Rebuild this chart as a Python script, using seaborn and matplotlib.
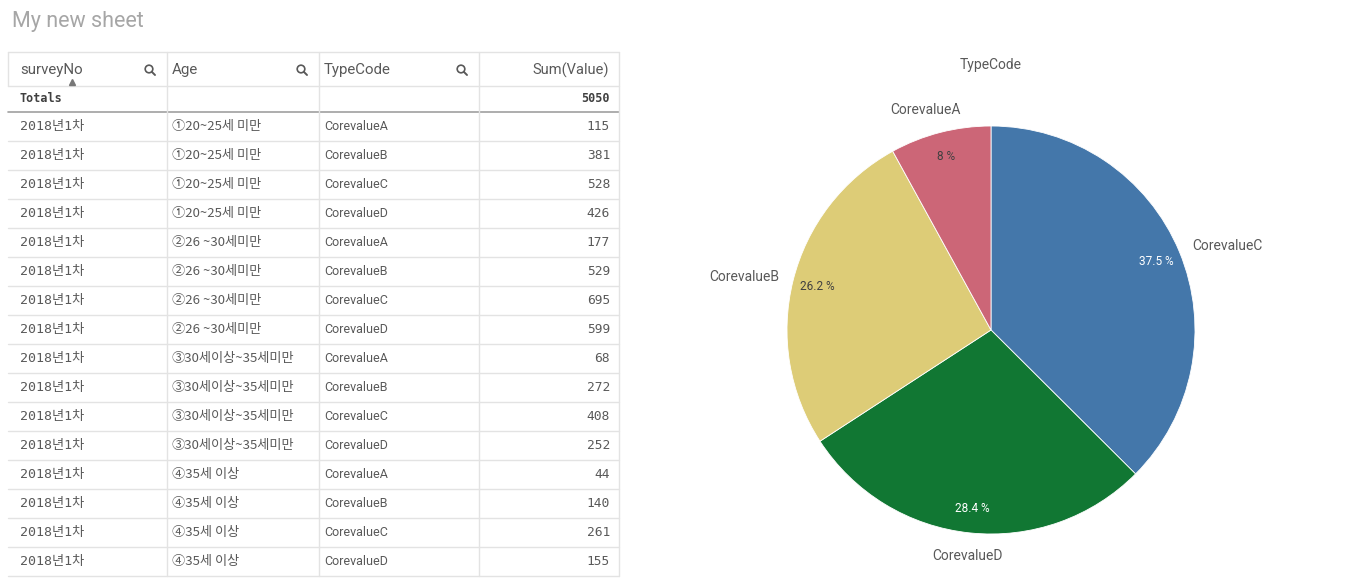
import pandas as pd
import numpy as np
import matplotlib.pyplot as plt
from matplotlib.patches import Circle
import seaborn as sns

# --- datos ---
survey_no = ["2018년1차"] * 16
age_groups = ["①20~25세 미만"] * 4 + ["②26 ~30세미만"] * 4 + ["③30세이상~35세미만"] * 4 + ["④35세 이상"] * 4
type_codes = ["CorevalueA", "CorevalueB", "CorevalueC", "CorevalueD"] * 4
values = [115, 381, 528, 426,
          177, 529, 695, 599,
          68, 272, 408, 252,
          44, 140, 261, 155]
headers = ["surveyNo", "Age", "TypeCode", "Sum(Value)"]
type_colors = {"CorevalueC": "#4477aa", "CorevalueD": "#117733",
               "CorevalueB": "#ddcc77", "CorevalueA": "#cc6677"}

df = pd.DataFrame({"surveyNo": survey_no, "Age": age_groups,
                   "TypeCode": type_codes, "Value": values})

sns.set_theme(style="white")
plt.rcParams['font.family'] = ['Roboto', 'Noto Sans CJK KR', 'DejaVu Sans']
mono = ['DejaVu Sans Mono', 'Noto Sans CJK KR']
mixed = ['Noto Sans CJK KR', 'DejaVu Sans']

fig = plt.figure(figsize=(13.52, 5.81), dpi=100)

# --- tabla en coordenadas de pixel ---
ax = fig.add_axes([0, 0, 1, 1])
ax.set_xlim(0, 1352)
ax.set_ylim(581, 0)
ax.axis('off')

ax.text(12, 21, "My new sheet", fontsize=15.5, color="#a6a6a6", va='center', ha='left')

col_x = [8, 167, 319, 479, 619]
line_c = "#e3e3e3"
head_top, head_bot, tot_bot = 52, 86, 112
row_h = 29
n = len(df)

ax.plot([col_x[0], col_x[-1]], [head_top, head_top], color=line_c, lw=1)
ax.plot([col_x[0], col_x[-1]], [head_bot, head_bot], color=line_c, lw=1)
ax.plot([col_x[0], col_x[-1]], [tot_bot, tot_bot], color="#a0a0a0", lw=1.2)
bottom = tot_bot + row_h * n
for x in col_x[1:-1]:
    ax.plot([x, x], [head_top, bottom], color=line_c, lw=1)
ax.plot([col_x[-1], col_x[-1]], [head_top, bottom], color=line_c, lw=1)
ax.plot([col_x[0], col_x[0]], [head_top, head_bot], color=line_c, lw=1)

# encabezados
for i, h in enumerate(headers):
    if i < 3:
        off = 12 if i == 0 else 5
        ax.text(col_x[i] + off, 70, h, fontsize=10.8, color="#595959", va='center', ha='left')
        cx = col_x[i + 1] - 18
        ax.add_patch(Circle((cx, 69), 3.8, fill=False, ec="#595959", lw=1.2))
        ax.plot([cx + 2.8, cx + 6], [71.8, 75], color="#595959", lw=1.4)
    else:
        ax.text(col_x[i + 1] - 10, 70, h, fontsize=10.5, color="#595959", va='center', ha='right')
ax.plot([72], [82], marker='^', markersize=5, color="#777777")

# totales
ax.text(20, 99, "Totals", fontsize=8.5, fontweight='bold', color="#404040", va='center', family=mono)
ax.text(col_x[-1] - 9, 99, str(df["Value"].sum()), fontsize=8.5, fontweight='bold',
        color="#404040", va='center', ha='right', family=mono)

# filas
for r, row in df.iterrows():
    y = tot_bot + row_h * r + row_h / 2
    ax.text(20, y, row["surveyNo"], fontsize=9.5, color="#595959", va='center', family=mono)
    ax.text(172, y, row["Age"], fontsize=9.5, color="#595959", va='center', family=mixed)
    ax.text(324, y, row["TypeCode"], fontsize=9, color="#595959", va='center')
    ax.text(col_x[-1] - 9, y, str(row["Value"]), fontsize=9.3, color="#595959",
            va='center', ha='right', family=mono)
    yb = tot_bot + row_h * (r + 1)
    ax.plot([col_x[0], col_x[-1]], [yb, yb], color=line_c, lw=1)

# --- grafico de tarta ---
totals = df.groupby("TypeCode")["Value"].sum().sort_values(ascending=False)
colors = [type_colors[k] for k in totals.index]
palette = sns.color_palette(colors)

cx, cy, rad = 991, 330, 204
pax = fig.add_axes([(cx - rad) / 1352, (581 - cy - rad) / 581, 2 * rad / 1352, 2 * rad / 581])


def fmt_pct(p):
    s = f"{p:.1f}".rstrip('0').rstrip('.')
    return s + " %"


wedges, texts, autotexts = pax.pie(totals.values, labels=totals.index, colors=palette,
                                   startangle=90, counterclock=False, autopct=fmt_pct,
                                   pctdistance=0.88, labeldistance=1.07,
                                   wedgeprops=dict(edgecolor="white", linewidth=0.6),
                                   textprops=dict(fontsize=10, color="#595959"))
pax.set_xlim(-1, 1)
pax.set_ylim(-1, 1)

for w, t, at in zip(wedges, texts, autotexts):
    mid = np.deg2rad((w.theta1 + w.theta2) / 2)
    c, s = np.cos(mid), np.sin(mid)
    if abs(c) < 0.3:
        shift = -0.05 if s > 0 else 0.0
        t.set_position((1.1 * c + shift, 1.08 * s))
        t.set_ha('center')
        t.set_va('bottom' if s > 0 else 'top')
    else:
        t.set_ha('left' if c > 0 else 'right')
        t.set_va('center')
    at.set_fontsize(8.5)
    light = w.get_facecolor()[1] < 0.6 and w.get_facecolor()[0] < 0.5
    at.set_color("white" if light else "#404040")

pax.set_title("TypeCode", fontsize=10, color="#595959", pad=0, y=1.0)
pax.title.set_position((0.5, (581 - 65 - (581 - cy - rad)) / (2 * rad)))
pax.title.set_va('center')

fig.savefig("out.png", dpi=100)
